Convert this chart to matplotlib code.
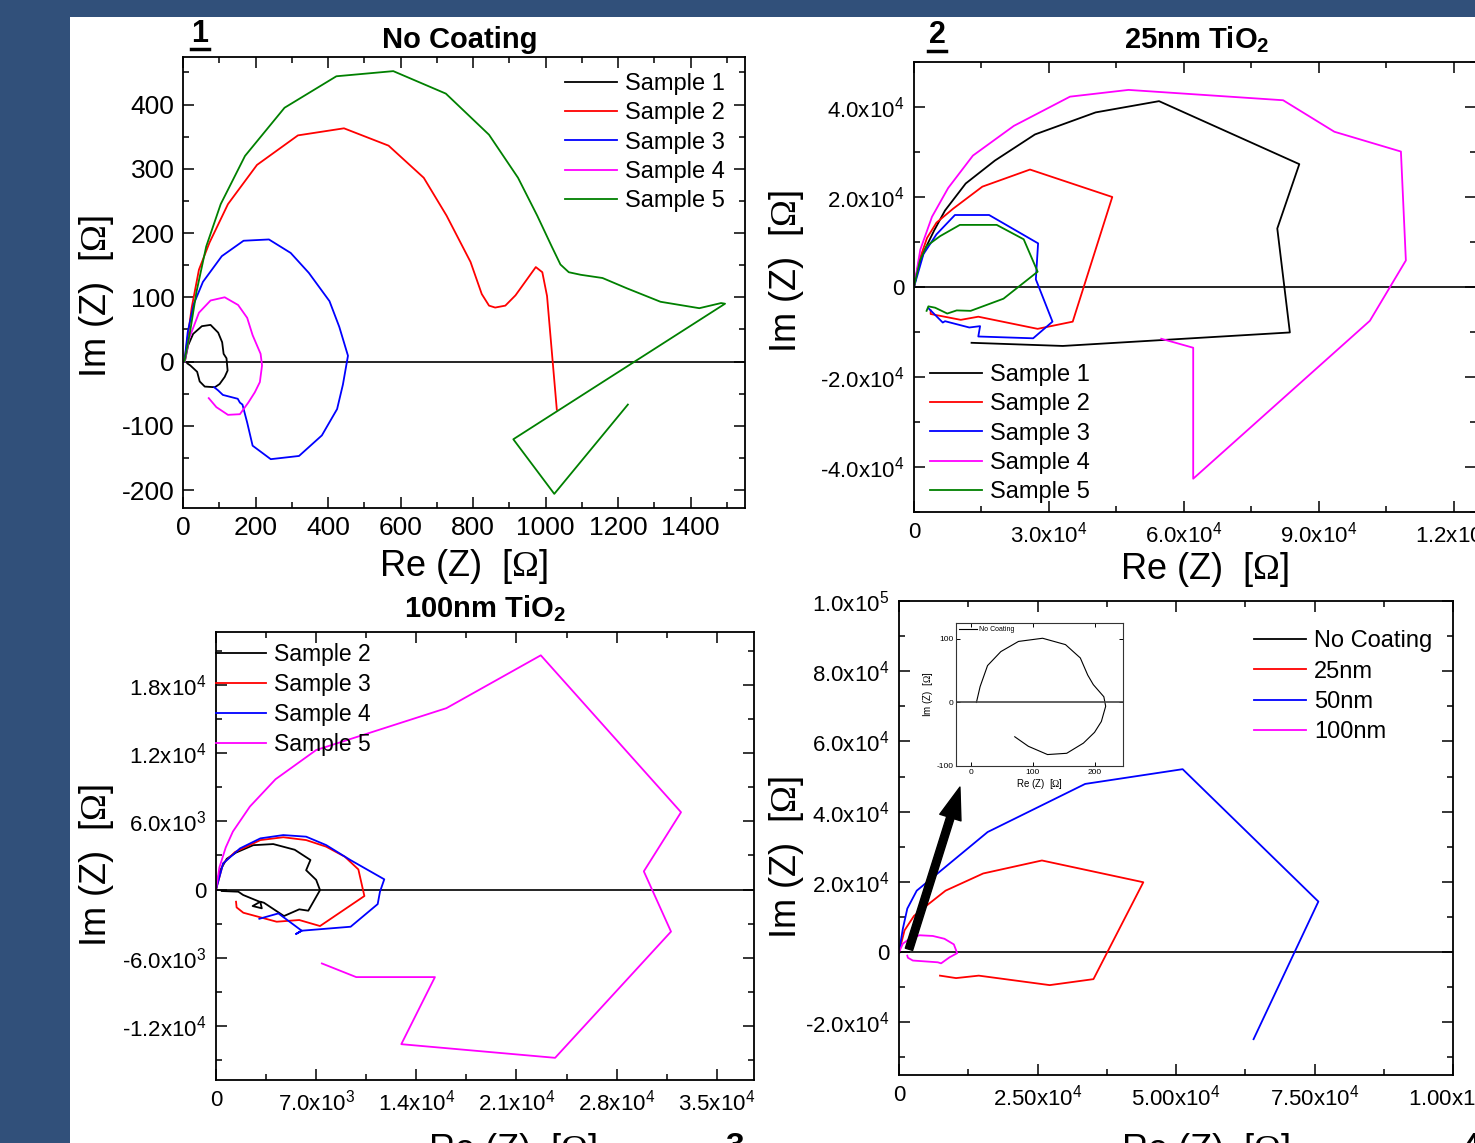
import matplotlib.pyplot as plt
from matplotlib.patches import Rectangle
from matplotlib.lines import Line2D
from matplotlib.ticker import MultipleLocator

plt.rcParams['font.family'] = ['Liberation Sans', 'DejaVu Sans']
plt.rcParams['mathtext.fontset'] = 'custom'
plt.rcParams['mathtext.rm'] = 'Liberation Serif'
plt.rcParams['mathtext.bf'] = 'Liberation Sans:bold'
plt.rcParams['mathtext.it'] = 'Liberation Sans:italic'
plt.rcParams['mathtext.sf'] = 'Liberation Sans'

W, H = 1475, 1143

# ---- panel 1: No Coating (Ohm) ----
p1_s1_re = [5, 14, 28, 52, 76, 97, 108, 112, 120, 123, 115, 101, 88, 60, 46, 39, 20, 12]
p1_s1_im = [0, 25, 43, 55, 57, 45, 30, 12, 5, -14, -24, -35, -40, -39, -31, -16, -6, -3]
p1_s2_re = [4, 24, 44, 73, 124, 204, 317, 444, 567, 664, 727, 793, 824, 844, 861, 889, 917, 973, 991, 1004, 1031]
p1_s2_im = [0, 84, 143, 185, 245, 306, 352, 363, 336, 286, 227, 155, 105, 87, 84, 87, 103, 147, 139, 102, -75]
p1_s3_re = [4, 13, 30, 55, 107, 167, 237, 297, 347, 404, 431, 455, 441, 425, 383, 320, 242, 192, 177, 164, 157, 151, 110, 97, 86]
p1_s3_im = [0, 46, 90, 124, 164, 188, 190, 169, 138, 94, 54, 9, -36, -74, -115, -147, -152, -131, -95, -67, -64, -58, -52, -45, -40]
p1_s4_re = [5, 17, 44, 76, 115, 152, 177, 192, 214, 218, 212, 198, 180, 157, 124, 92, 71]
p1_s4_im = [0, 36, 76, 95, 100, 88, 68, 41, 12, -6, -32, -48, -64, -82, -83, -71, -57]
p1_s5_re = [4, 20, 37, 64, 104, 171, 280, 423, 580, 725, 844, 924, 977, 1017, 1041, 1064, 1097, 1157,
            1224, 1317, 1424, 1484, 1495, 911, 1024, 1227]
p1_s5_im = [0, 48, 108, 179, 245, 320, 395, 444, 452, 417, 353, 286, 227, 179, 151, 139, 135, 130,
            114, 93, 83, 91, 90, -121, -206, -67]

# ---- panel 2: 25nm TiO2 ----
p2_s1_re = [0, 800, 2400, 4500, 6900, 11500, 18000, 26900, 40400, 54500, 85700, 80800, 83600, 33100, 12800]
p2_s1_im = [0, 4000, 8300, 12600, 17000, 23000, 28100, 33900, 38800, 41300, 27300, 13000, -10100, -13100, -12400]
p2_s2_re = [0, 1100, 2900, 5000, 8700, 15200, 25800, 44100, 35300, 27500, 14300, 10400, 3700, 3700]
p2_s2_im = [0, 5700, 10900, 14300, 17400, 22300, 26100, 20000, -7700, -9300, -6600, -7300, -6000, -5200]
p2_s3_re = [0, 2100, 5000, 9100, 16700, 27600, 27100, 30800, 26500, 14300, 14700, 12300, 6900, 6400, 3200]
p2_s3_im = [0, 7300, 11700, 16000, 16000, 9700, 1700, -7700, -11400, -11000, -8700, -9000, -7600, -7900, -4700]
p2_s4_re = [0, 1400, 4000, 7600, 13100, 22200, 34700, 47700, 82100, 93500, 108300, 109400, 101400, 62100, 62100, 55000]
p2_s4_im = [0, 8300, 15600, 22000, 29200, 35800, 42300, 43800, 41500, 34500, 30100, 5900, -7500, -42600, -13500, -11500]
p2_s5_re = [0, 1300, 2800, 5800, 10200, 18400, 24400, 27500, 19900, 12600, 9500, 7400, 4700, 3200, 2800]
p2_s5_im = [0, 5800, 9100, 11300, 13800, 13800, 10600, 3400, -2600, -5300, -5200, -5900, -4600, -4300, -5300]

# ---- panel 3: 100nm TiO2 ----
p3_s2_re = [0, 250, 750, 1400, 2600, 4000, 5500, 6600, 6300, 7000, 7270, 6450, 5820, 4750, 3350, 3100,
            2560, 3200, 3100, 1900, 1560, 400]
p3_s2_im = [0, 1600, 2700, 3250, 3900, 4000, 3500, 2600, 1700, 850, -50, -1860, -1740, -2330, -1160, -1070,
            -1450, -1650, -1100, -480, -190, -130]
p3_s3_re = [0, 500, 1330, 3100, 4700, 6300, 7700, 9000, 9950, 10370, 7270, 5820, 4240, 1910, 1440, 1400]
p3_s3_im = [0, 2300, 3300, 4350, 4600, 4350, 3770, 2890, 1770, -570, -3210, -2680, -2830, -2040, -1570, -1070]
p3_s4_re = [0, 500, 1680, 3100, 4700, 6300, 7700, 9400, 11760, 11460, 11300, 9410, 5990, 5600, 5990, 4360, 3030]
p3_s4_im = [0, 2300, 3620, 4500, 4790, 4650, 3910, 2590, 900, -190, -1280, -3270, -3620, -3900, -3620, -2100, -2570]
p3_s5_re = [0, 240, 680, 1180, 2370, 4160, 7000, 16100, 22700, 32500, 29900, 31800, 23700, 12950, 15300, 9800, 7400]
p3_s5_im = [0, 1960, 3700, 5100, 7300, 9700, 12270, 15950, 20600, 6800, 1600, -3700, -14800, -13600, -7700, -7700, -6500]

# ---- panel 4: comparison ----
p4_nc_re = [9, 15, 27, 48.5, 77, 116, 153, 177, 189, 198, 215, 218, 211, 200, 182, 155, 124, 93, 71]
p4_nc_im = [0, 25, 58, 80, 96, 101, 91, 70, 43, 28, 9, -6, -30, -47, -64, -80, -82, -69, -54]
p4_25_re = [0, 1000, 2700, 5100, 8400, 15200, 25800, 44100, 35100, 27200, 14400, 10300, 7400]
p4_25_im = [0, 6200, 10300, 13400, 17500, 22400, 26100, 19900, -7700, -9400, -6700, -7400, -6700]
p4_50_re = [0, 700, 1500, 3200, 16000, 33600, 51200, 75700, 64000]
p4_50_im = [0, 6700, 12400, 17500, 34200, 47900, 52100, 14400, -24800]
p4_100_re = [0, 700, 1900, 3700, 6100, 8200, 9900, 10500, 9100, 7600, 7000, 5200, 2500, 1600, 1500]
p4_100_im = [0, 2400, 3800, 4800, 4600, 3800, 2200, -300, -1500, -3200, -2900, -2700, -2400, -1600, -1000]

# tick labels
p1_xt = [0, 200, 400, 600, 800, 1000, 1200, 1400]
p1_xl = ['0', '200', '400', '600', '800', '1000', '1200', '1400']
p1_yt = [-200, -100, 0, 100, 200, 300, 400]
p1_yl = ['-200', '-100', '0', '100', '200', '300', '400']
p2_xt = [0, 30000, 60000, 90000, 120000]
p2_xl = ['0', r'$\mathregular{3.0x10^4}$', r'$\mathregular{6.0x10^4}$', r'$\mathregular{9.0x10^4}$', r'$\mathregular{1.2x10^5}$']
p2_yt = [-40000, -20000, 0, 20000, 40000]
p2_yl = [r'-$\mathregular{4.0x10^4}$', r'-$\mathregular{2.0x10^4}$', '0', r'$\mathregular{2.0x10^4}$', r'$\mathregular{4.0x10^4}$']
p3_xt = [0, 7000, 14000, 21000, 28000, 35000]
p3_xl = ['0', r'$\mathregular{7.0x10^3}$', r'$\mathregular{1.4x10^4}$', r'$\mathregular{2.1x10^4}$',
         r'$\mathregular{2.8x10^4}$', r'$\mathregular{3.5x10^4}$']
p3_yt = [-12000, -6000, 0, 6000, 12000, 18000]
p3_yl = [r'-$\mathregular{1.2x10^4}$', r'-$\mathregular{6.0x10^3}$', '0', r'$\mathregular{6.0x10^3}$',
         r'$\mathregular{1.2x10^4}$', r'$\mathregular{1.8x10^4}$']
p4_xt = [0, 25000, 50000, 75000, 100000]
p4_xl = ['0', r'$\mathregular{2.50x10^4}$', r'$\mathregular{5.00x10^4}$', r'$\mathregular{7.50x10^4}$', r'$\mathregular{1.00x10^5}$']
p4_yt = [-20000, 0, 20000, 40000, 60000, 80000, 100000]
p4_yl = [r'-$\mathregular{2.0x10^4}$', '0', r'$\mathregular{2.0x10^4}$', r'$\mathregular{4.0x10^4}$',
         r'$\mathregular{6.0x10^4}$', r'$\mathregular{8.0x10^4}$', r'$\mathregular{1.0x10^5}$']

RE = r'Re (Z)  [$\mathrm{\Omega}$]'
IM = r'Im (Z)  [$\mathrm{\Omega}$]'

fig = plt.figure(figsize=(W / 100, H / 100), dpi=100, facecolor='#31507a')
fig.patches.append(Rectangle((70 / W, 0), 1, 1 - 17 / H, transform=fig.transFigure,
                             facecolor='white', edgecolor='none', zorder=-1))


def box(x0, y0, x1, y1):
    return [x0 / W, 1 - y1 / H, (x1 - x0) / W, (y1 - y0) / H]


def ftext(x, y, s, **kw):
    return fig.text(x / W, 1 - y / H, s, ha='center', va='center', **kw)


def style(ax, xlim, ylim, xt, xl, yt, yl, xmin, ymin, size, pad):
    ax.set_xlim(xlim)
    ax.set_ylim(ylim)
    ax.set_xticks(xt, labels=xl)
    ax.set_yticks(yt, labels=yl)
    ax.xaxis.set_minor_locator(MultipleLocator(xmin))
    ax.yaxis.set_minor_locator(MultipleLocator(ymin))
    ax.tick_params(which='both', direction='in', top=True, right=True, width=1.1)
    ax.tick_params(which='major', length=8, labelsize=size, pad=pad)
    ax.tick_params(which='minor', length=4)
    for s in ax.spines.values():
        s.set_linewidth(1.3)
    ax.axhline(0, color='black', lw=1.2, zorder=1)


def leg(ax, x, y, spacing=0.31, size=17):
    ax.legend(loc='upper left', bbox_to_anchor=(x / W, 1 - y / H), bbox_transform=fig.transFigure,
              frameon=False, fontsize=size, handlelength=2.2, handletextpad=0.35,
              labelspacing=spacing, borderpad=0, borderaxespad=0)


lw = 1.3

# panel 1
ax1 = fig.add_axes(box(183, 57, 745, 508))
ax1.plot(p1_s1_re, p1_s1_im, color='black', lw=lw, label='Sample 1')
ax1.plot(p1_s2_re, p1_s2_im, color='red', lw=lw, label='Sample 2')
ax1.plot(p1_s3_re, p1_s3_im, color='blue', lw=lw, label='Sample 3')
ax1.plot(p1_s4_re, p1_s4_im, color='magenta', lw=lw, label='Sample 4')
ax1.plot(p1_s5_re, p1_s5_im, color='green', lw=lw, label='Sample 5')
style(ax1, (0, 1550), (-228, 474), p1_xt, p1_xl, p1_yt, p1_yl, 100, 50, 19, 6)
leg(ax1, 565, 73)

# panel 2
ax2 = fig.add_axes(box(914, 62, 1476, 512))
ax2.plot(p2_s1_re, p2_s1_im, color='black', lw=lw, label='Sample 1')
ax2.plot(p2_s2_re, p2_s2_im, color='red', lw=lw, label='Sample 2')
ax2.plot(p2_s3_re, p2_s3_im, color='blue', lw=lw, label='Sample 3')
ax2.plot(p2_s4_re, p2_s4_im, color='magenta', lw=lw, label='Sample 4')
ax2.plot(p2_s5_re, p2_s5_im, color='green', lw=lw, label='Sample 5')
style(ax2, (0, 125000), (-50000, 50000), p2_xt, p2_xl, p2_yt, p2_yl, 15000, 10000, 16, 7)
leg(ax2, 930, 364)

# panel 3
ax3 = fig.add_axes(box(216, 632, 754, 1080))
ax3.plot(p3_s2_re, p3_s2_im, color='black', lw=lw, label='Sample 2')
ax3.plot(p3_s3_re, p3_s3_im, color='red', lw=lw, label='Sample 3')
ax3.plot(p3_s4_re, p3_s4_im, color='blue', lw=lw, label='Sample 4')
ax3.plot(p3_s5_re, p3_s5_im, color='magenta', lw=lw, label='Sample 5')
style(ax3, (0, 37600), (-16750, 22650), p3_xt, p3_xl, p3_yt, p3_yl, 3500, 3000, 16, 7)
leg(ax3, 216, 643, size=16.5)

# panel 4
ax4 = fig.add_axes(box(899, 601, 1453, 1075))
ax4.plot(p4_nc_re, p4_nc_im, color='black', lw=lw, label='No Coating')
ax4.plot(p4_25_re, p4_25_im, color='red', lw=lw, label='25nm')
ax4.plot(p4_50_re, p4_50_im, color='blue', lw=lw, label='50nm')
ax4.plot(p4_100_re, p4_100_im, color='magenta', lw=lw, label='100nm')
style(ax4, (0, 100000), (-35000, 100000), p4_xt, p4_xl, p4_yt, p4_yl, 12500, 10000, 16, 7)
leg(ax4, 1254, 630, spacing=0.36)
ax4.annotate('', xy=(11000, 47000), xytext=(1800, 800), annotation_clip=False,
             arrowprops=dict(facecolor='black', edgecolor='black', width=5.5, headwidth=16,
                             headlength=23, shrink=0))

# inset
axi = fig.add_axes(box(956, 623, 1123, 766))
axi.plot(p4_nc_re, p4_nc_im, color='black', lw=0.8, label='No Coating')
axi.axhline(0, color='#444444', lw=1.2)
axi.set_xlim(-24, 246)
axi.set_ylim(-100, 125)
axi.set_xticks([0, 100, 200], labels=['0', '100', '200'])
axi.set_yticks([-100, 0, 100], labels=['-100', '0', '100'])
axi.tick_params(direction='in', top=True, right=True, length=3, width=0.7, labelsize=6, pad=2)
for s in axi.spines.values():
    s.set_linewidth(0.8)
    s.set_color('#333333')
axi.set_xlabel(RE, fontsize=7, labelpad=1)
axi.set_ylabel(IM, fontsize=7, labelpad=1)
axi.legend(loc='upper left', frameon=False, fontsize=5, handlelength=2.5, handletextpad=0.3,
           borderpad=0.3, borderaxespad=0.2)

# titles, labels
ftext(460, 40, 'No Coating', fontsize=21, fontweight='bold')
ftext(200, 34, '1', fontsize=22, fontweight='bold')
ftext(1197, 40, r'$\mathbf{25nm\ TiO_2}$', fontsize=21)
ftext(937, 35, '2', fontsize=22, fontweight='bold')
ftext(485, 609, r'$\mathbf{100nm\ TiO_2}$', fontsize=21)
ftext(735, 1147, '3', fontsize=24, fontweight='bold')
ftext(1472, 1147, '4', fontsize=24, fontweight='bold')
fig.add_artist(Line2D([191 / W, 209 / W], [1 - 49 / H, 1 - 49 / H], color='black', lw=2.5))
fig.add_artist(Line2D([928 / W, 946 / W], [1 - 51 / H, 1 - 51 / H], color='black', lw=2.5))

ftext(463, 566, RE, fontsize=26)
ftext(97, 297, IM, fontsize=26, rotation=90)
ftext(1204, 569, RE, fontsize=26)
ftext(787, 272, IM, fontsize=26, rotation=90)
ftext(512, 1150, RE, fontsize=26)
ftext(97, 866, IM, fontsize=26, rotation=90)
ftext(1205, 1150, RE, fontsize=26)
ftext(787, 858, IM, fontsize=26, rotation=90)

fig.savefig('out.png', dpi=100, facecolor=fig.get_facecolor())
